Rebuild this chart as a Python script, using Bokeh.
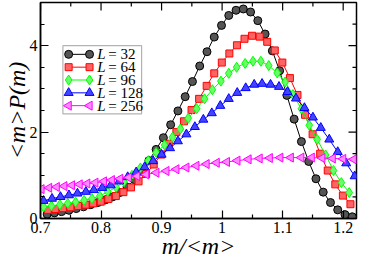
import math
from bokeh.plotting import figure
from bokeh.models import Range1d, FixedTicker, CustomJSTickFormatter, BoxAnnotation
from bokeh.core.properties import value
from bokeh.embed import file_html
from bokeh.resources import INLINE

FONT = "Liberation Serif"

# ---------------- data ----------------
X_TICKS = [0.7, 0.8, 0.9, 1.0, 1.1, 1.2]
X_MINOR = [0.75, 0.85, 0.95, 1.05, 1.15]
Y_TICKS = [0, 2, 4]
Y_MINOR = [0.5, 1.0, 1.5, 2.5, 3.0, 3.5, 4.5]

LABELS = ["32", "64", "96", "128", "256"]

X32 = [0.711, 0.723, 0.735, 0.747, 0.759, 0.771, 0.783, 0.795, 0.807, 0.819,
       0.831, 0.843, 0.855, 0.867, 0.879, 0.891, 0.903, 0.915, 0.927, 0.939,
       0.951, 0.963, 0.975, 0.987, 0.999, 1.011, 1.023, 1.035, 1.047, 1.059,
       1.071, 1.083, 1.095, 1.107, 1.119, 1.131, 1.143, 1.155, 1.167, 1.179,
       1.191, 1.203, 1.215]
Y32 = [0.10, 0.13, 0.16, 0.19, 0.23, 0.27, 0.32, 0.37, 0.43, 0.50,
       0.60, 0.73, 0.90, 1.10, 1.34, 1.60, 1.87, 2.17, 2.49, 2.82,
       3.17, 3.53, 3.86, 4.20, 4.47, 4.70, 4.82, 4.85, 4.78, 4.58,
       4.27, 3.88, 3.42, 2.85, 2.30, 1.78, 1.32, 0.92, 0.61, 0.37,
       0.20, 0.09, 0.04]

X64 = [0.712, 0.7245, 0.737, 0.7495, 0.762, 0.7745, 0.787, 0.7995, 0.812, 0.8245,
       0.837, 0.8495, 0.862, 0.8745, 0.887, 0.8995, 0.912, 0.9245, 0.937, 0.9495,
       0.962, 0.9745, 0.987, 0.9995, 1.012, 1.0245, 1.037, 1.0495, 1.062, 1.0745,
       1.087, 1.0995, 1.112, 1.1245, 1.137, 1.1495, 1.162, 1.1745, 1.187, 1.1995,
       1.212]
Y64 = [0.20, 0.22, 0.24, 0.26, 0.29, 0.32, 0.35, 0.39, 0.45, 0.52,
       0.61, 0.72, 0.86, 1.03, 1.25, 1.48, 1.73, 2.00, 2.25, 2.51,
       2.77, 3.07, 3.36, 3.61, 3.82, 4.01, 4.16, 4.23, 4.21, 4.09,
       3.89, 3.61, 3.25, 2.86, 2.40, 1.95, 1.50, 1.11, 0.79, 0.53,
       0.33]

X96 = [0.705, 0.718, 0.732, 0.745, 0.758, 0.772, 0.785, 0.798, 0.811, 0.825,
       0.838, 0.851, 0.865, 0.878, 0.891, 0.905, 0.918, 0.931, 0.944, 0.958,
       0.971, 0.984, 0.998, 1.011, 1.024, 1.038, 1.051, 1.064, 1.077, 1.091,
       1.104, 1.117, 1.131, 1.144, 1.157, 1.171, 1.184, 1.197, 1.210]
Y96 = [0.27, 0.29, 0.32, 0.35, 0.38, 0.42, 0.46, 0.52, 0.62, 0.72,
       0.85, 1.00, 1.17, 1.34, 1.53, 1.70, 1.88, 2.07, 2.32, 2.54,
       2.77, 2.98, 3.18, 3.36, 3.50, 3.59, 3.64, 3.64, 3.54, 3.37,
       3.16, 2.87, 2.54, 2.16, 1.83, 1.47, 1.11, 0.83, 0.60]

X128 = [0.705, 0.719, 0.733, 0.747, 0.761, 0.775, 0.788, 0.802, 0.816, 0.830,
        0.844, 0.858, 0.872, 0.886, 0.900, 0.914, 0.927, 0.941, 0.955, 0.969,
        0.983, 0.997, 1.011, 1.025, 1.039, 1.053, 1.066, 1.080, 1.094, 1.108,
        1.122, 1.136, 1.150, 1.163, 1.177, 1.191, 1.205, 1.219]
Y128 = [0.41, 0.46, 0.50, 0.54, 0.58, 0.62, 0.66, 0.71, 0.77, 0.86,
        0.96, 1.07, 1.19, 1.33, 1.48, 1.63, 1.79, 1.95, 2.12, 2.29,
        2.44, 2.61, 2.77, 2.91, 3.02, 3.10, 3.12, 3.10, 3.05, 2.93,
        2.78, 2.56, 2.34, 2.10, 1.83, 1.54, 1.28, 0.98]

X256 = [0.7016, 0.7142, 0.7268, 0.7394, 0.7520, 0.7646, 0.7772, 0.7906, 0.8047, 0.8178,
        0.8315, 0.8457, 0.8598, 0.8745, 0.8913, 0.9079, 0.9244, 0.9409, 0.9575, 0.9743,
        0.9910, 1.0079, 1.0252, 1.0436, 1.0619, 1.0787, 1.0961, 1.1134, 1.1307, 1.1480,
        1.1654, 1.1827, 1.2000, 1.2173]
Y256 = [0.68, 0.71, 0.73, 0.75, 0.77, 0.79, 0.81, 0.83, 0.86, 0.89,
        0.92, 0.95, 0.98, 1.02, 1.06, 1.10, 1.14, 1.18, 1.22, 1.26,
        1.29, 1.31, 1.34, 1.37, 1.39, 1.40, 1.41, 1.41, 1.41, 1.41,
        1.40, 1.39, 1.38, 1.37]

SERIES = [
    (X32, Y32, "#000000", "#555555", "circle", 8, 0.0),
    (X64, Y64, "#ff0000", "#ff6464", "square", 7, 0.0),
    (X96, Y96, "#00ff00", "#66ff66", "diamond", 10, 0.0),
    (X128, Y128, "#0000ff", "#4444ff", "triangle", 9, 0.0),
    (X256, Y256, "#ff00ff", "#ff88ff", "triangle", 9, math.pi / 2),
]

X0, X1 = 0.7, 1.222
Y0, Y1 = 0.0, 5.0

# ---------------- figure ----------------
p = figure(width=358, height=261, x_range=Range1d(X0, X1), y_range=Range1d(Y0, Y1),
           output_backend="svg", toolbar_location=None,
           min_border_left=0, min_border_right=2, min_border_top=2, min_border_bottom=0)
p.grid.visible = False
p.outline_line_color = "black"
p.outline_line_width = 1.5
p.background_fill_color = "white"
p.border_fill_color = "white"

fmt = CustomJSTickFormatter(code="return String(Math.round(tick*1000)/1000);")

for ax, ticks, minor, lab in ((p.xaxis[0], X_TICKS, X_MINOR, "m/<m>"),
                              (p.yaxis[0], Y_TICKS, Y_MINOR, "<m>P(m)")):
    ax.ticker = FixedTicker(ticks=ticks, minor_ticks=minor)
    ax.formatter = fmt
    ax.axis_label = lab
    ax.axis_line_color = "black"
    ax.axis_line_width = 1.5
    ax.major_tick_in = 8
    ax.major_tick_out = 0
    ax.minor_tick_in = 4
    ax.minor_tick_out = 0
    ax.major_tick_line_color = "black"
    ax.minor_tick_line_color = "black"
    ax.major_tick_line_width = 1.2
    ax.minor_tick_line_width = 1.2
    ax.major_label_text_font = FONT
    ax.major_label_text_font_size = "16px"
    ax.major_label_text_color = "black"
    ax.major_label_standoff = 3
    ax.major_label_text_line_height = 0.9
    ax.axis_label_text_font = FONT
    ax.axis_label_text_font_size = "24px"
    ax.axis_label_text_font_style = "italic"
    ax.axis_label_text_color = "black"
    ax.axis_label_standoff = -3
    ax.axis_label_text_line_height = 0.8

# mirrored ticks on top and right edges (dash markers, half clipped by the frame)
p.scatter(X_TICKS, [Y1] * len(X_TICKS), marker="dash", size=16, angle=math.pi / 2,
          line_color="black", line_width=1.2)
p.scatter(X_MINOR, [Y1] * len(X_MINOR), marker="dash", size=8, angle=math.pi / 2,
          line_color="black", line_width=1.2)
p.scatter([X1] * len(Y_TICKS), Y_TICKS, marker="dash", size=16,
          line_color="black", line_width=1.2)
p.scatter([X1] * len(Y_MINOR), Y_MINOR, marker="dash", size=8,
          line_color="black", line_width=1.2)

# ---------------- series ----------------
for xs, ys, lc, fc, mk, sz, ang in SERIES:
    p.line(xs, ys, line_color=lc, line_width=1)
    p.scatter(xs, ys, marker=mk, size=sz, angle=ang, fill_color=fc,
              line_color=lc, line_width=1)

# ---------------- legend (drawn by hand, markers at both ends) ----------------
LEG_LEFT, LEG_RIGHT, LEG_TOP, LEG_BOTTOM = 0.737, 0.867, 4.0, 2.42
LEG_X0, LEG_X1, LEG_TX = 0.7465, 0.781, 0.7937
LEG_ROW0, LEG_STEP = 3.80, 0.297

p.add_layout(BoxAnnotation(left=LEG_LEFT, right=LEG_RIGHT, top=LEG_TOP, bottom=LEG_BOTTOM,
                           fill_color="white", fill_alpha=1.0, line_color="black",
                           line_width=1.2, level="underlay"))

for i, (lab, s) in enumerate(zip(LABELS, SERIES)):
    _, _, lc, fc, mk, sz, ang = s
    yy = LEG_ROW0 - i * LEG_STEP
    p.line([LEG_X0, LEG_X1], [yy, yy], line_color=lc, line_width=1)
    p.scatter([LEG_X0, LEG_X1], [yy, yy], marker=mk, size=sz, angle=ang,
              fill_color=fc, line_color=lc, line_width=1)
    p.text(x=[LEG_TX], y=[yy], text=["L"], text_font=value(FONT), text_font_style="italic",
           text_font_size="15px", text_baseline="middle", text_color="black")
    p.text(x=[LEG_TX], y=[yy], text=["= " + lab], x_offset=11, text_font=value(FONT),
           text_font_size="15px", text_baseline="middle", text_color="black")

open("out.html", "w").write(file_html(p, INLINE))
